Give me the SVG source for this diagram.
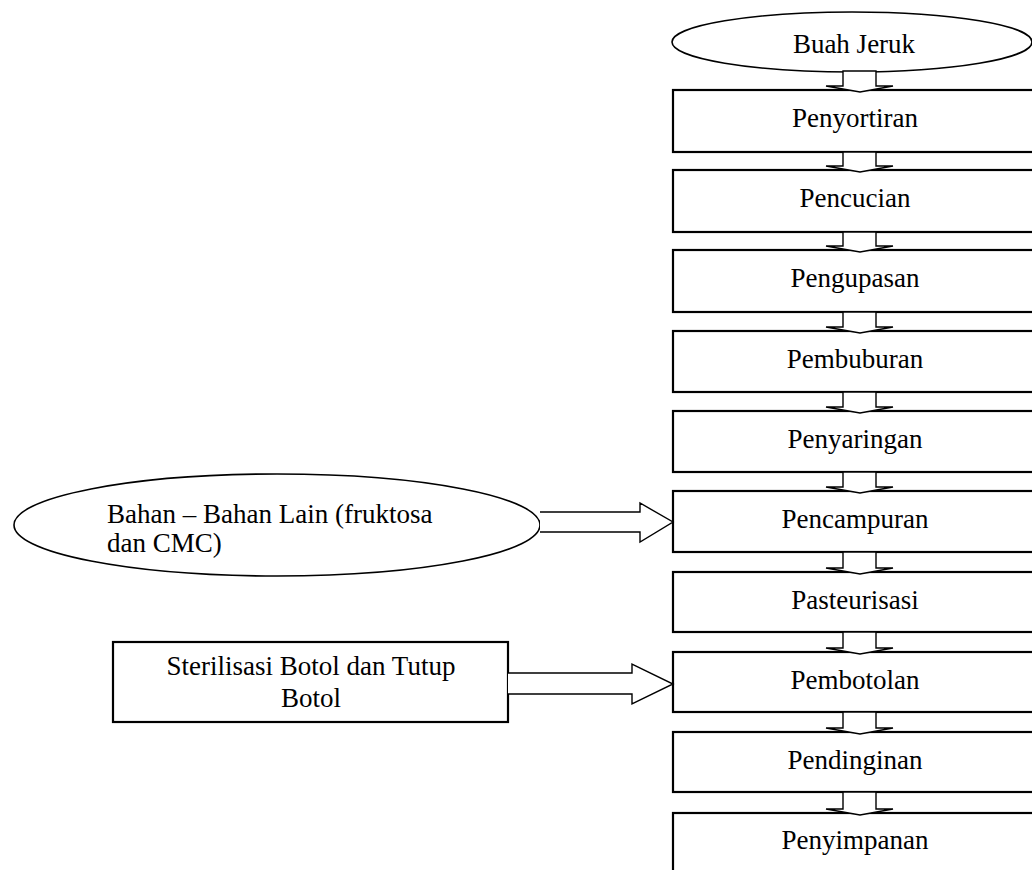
<svg xmlns="http://www.w3.org/2000/svg" width="1032" height="870" viewBox="0 0 1032 870">
<style>
.box{fill:#fff;stroke:#000;stroke-width:2.2}
.ell{fill:#fff;stroke:#000;stroke-width:1.6}
.arr{fill:#fff;stroke:#000;stroke-width:1.4;stroke-linejoin:miter}
.t{font-family:"Liberation Serif","Times New Roman",serif;font-size:27px;fill:#000}
.c{text-anchor:middle}
</style>
<rect width="1032" height="870" fill="#fff"/>
<g id="node-buah-jeruk"><ellipse class="ell" cx="852" cy="42" rx="180" ry="30"/><text class="t c" x="854" y="53">Buah Jeruk</text></g>
<g id="node-penyortiran"><rect class="box" x="673" y="90" width="365" height="62"/><text class="t c" x="855" y="127">Penyortiran</text></g>
<g id="node-pencucian"><rect class="box" x="673" y="170" width="365" height="62"/><text class="t c" x="855" y="207">Pencucian</text></g>
<g id="node-pengupasan"><rect class="box" x="673" y="250" width="365" height="62"/><text class="t c" x="855" y="287">Pengupasan</text></g>
<g id="node-pembuburan"><rect class="box" x="673" y="331" width="365" height="61"/><text class="t c" x="855" y="368">Pembuburan</text></g>
<g id="node-penyaringan"><rect class="box" x="673" y="411" width="365" height="61"/><text class="t c" x="855" y="448">Penyaringan</text></g>
<g id="node-pencampuran"><rect class="box" x="673" y="491" width="365" height="61"/><text class="t c" x="855" y="528">Pencampuran</text></g>
<g id="node-pasteurisasi"><rect class="box" x="673" y="572" width="365" height="60"/><text class="t c" x="855" y="609">Pasteurisasi</text></g>
<g id="node-pembotolan"><rect class="box" x="673" y="652" width="365" height="60"/><text class="t c" x="855" y="689">Pembotolan</text></g>
<g id="node-pendinginan"><rect class="box" x="673" y="732" width="365" height="60"/><text class="t c" x="855" y="769">Pendinginan</text></g>
<g id="node-penyimpanan"><rect class="box" x="673" y="813" width="365" height="62"/><text class="t c" x="855" y="849">Penyimpanan</text></g>
<g id="node-bahan-lain"><ellipse class="ell" cx="277" cy="525" rx="263" ry="51"/><text class="t" x="107" y="523">Bahan – Bahan Lain (fruktosa</text><text class="t" x="107" y="552">dan CMC)</text></g>
<g id="node-sterilisasi"><rect class="box" x="113" y="642" width="395" height="80"/><text class="t c" x="311" y="675">Sterilisasi Botol dan Tutup</text><text class="t c" x="311" y="707">Botol</text></g>
<g id="connectors">
<polygon class="arr" points="843,71 876,71 876,86 893,86 860,92 826,86 843,86"/>
<polygon class="arr" points="843,152 876,152 876,166 893,166 860,172 826,166 843,166"/>
<polygon class="arr" points="843,232 876,232 876,246 893,246 860,252 826,246 843,246"/>
<polygon class="arr" points="843,312 876,312 876,327 893,327 860,333 826,327 843,327"/>
<polygon class="arr" points="843,392 876,392 876,407 893,407 860,413 826,407 843,407"/>
<polygon class="arr" points="843,472 876,472 876,487 893,487 860,493 826,487 843,487"/>
<polygon class="arr" points="843,552 876,552 876,568 893,568 860,574 826,568 843,568"/>
<polygon class="arr" points="843,632 876,632 876,648 893,648 860,654 826,648 843,648"/>
<polygon class="arr" points="843,712 876,712 876,728 893,728 860,734 826,728 843,728"/>
<polygon class="arr" points="843,792 876,792 876,809 893,809 860,815 826,809 843,809"/>
<polyline class="arr" points="540,512 640,512 640,503 673,522 640,542 640,532 540,532"/>
<polyline class="arr" points="508,673 632,673 632,664 673,684 632,704 632,694 508,694"/>
</g>
</svg>
